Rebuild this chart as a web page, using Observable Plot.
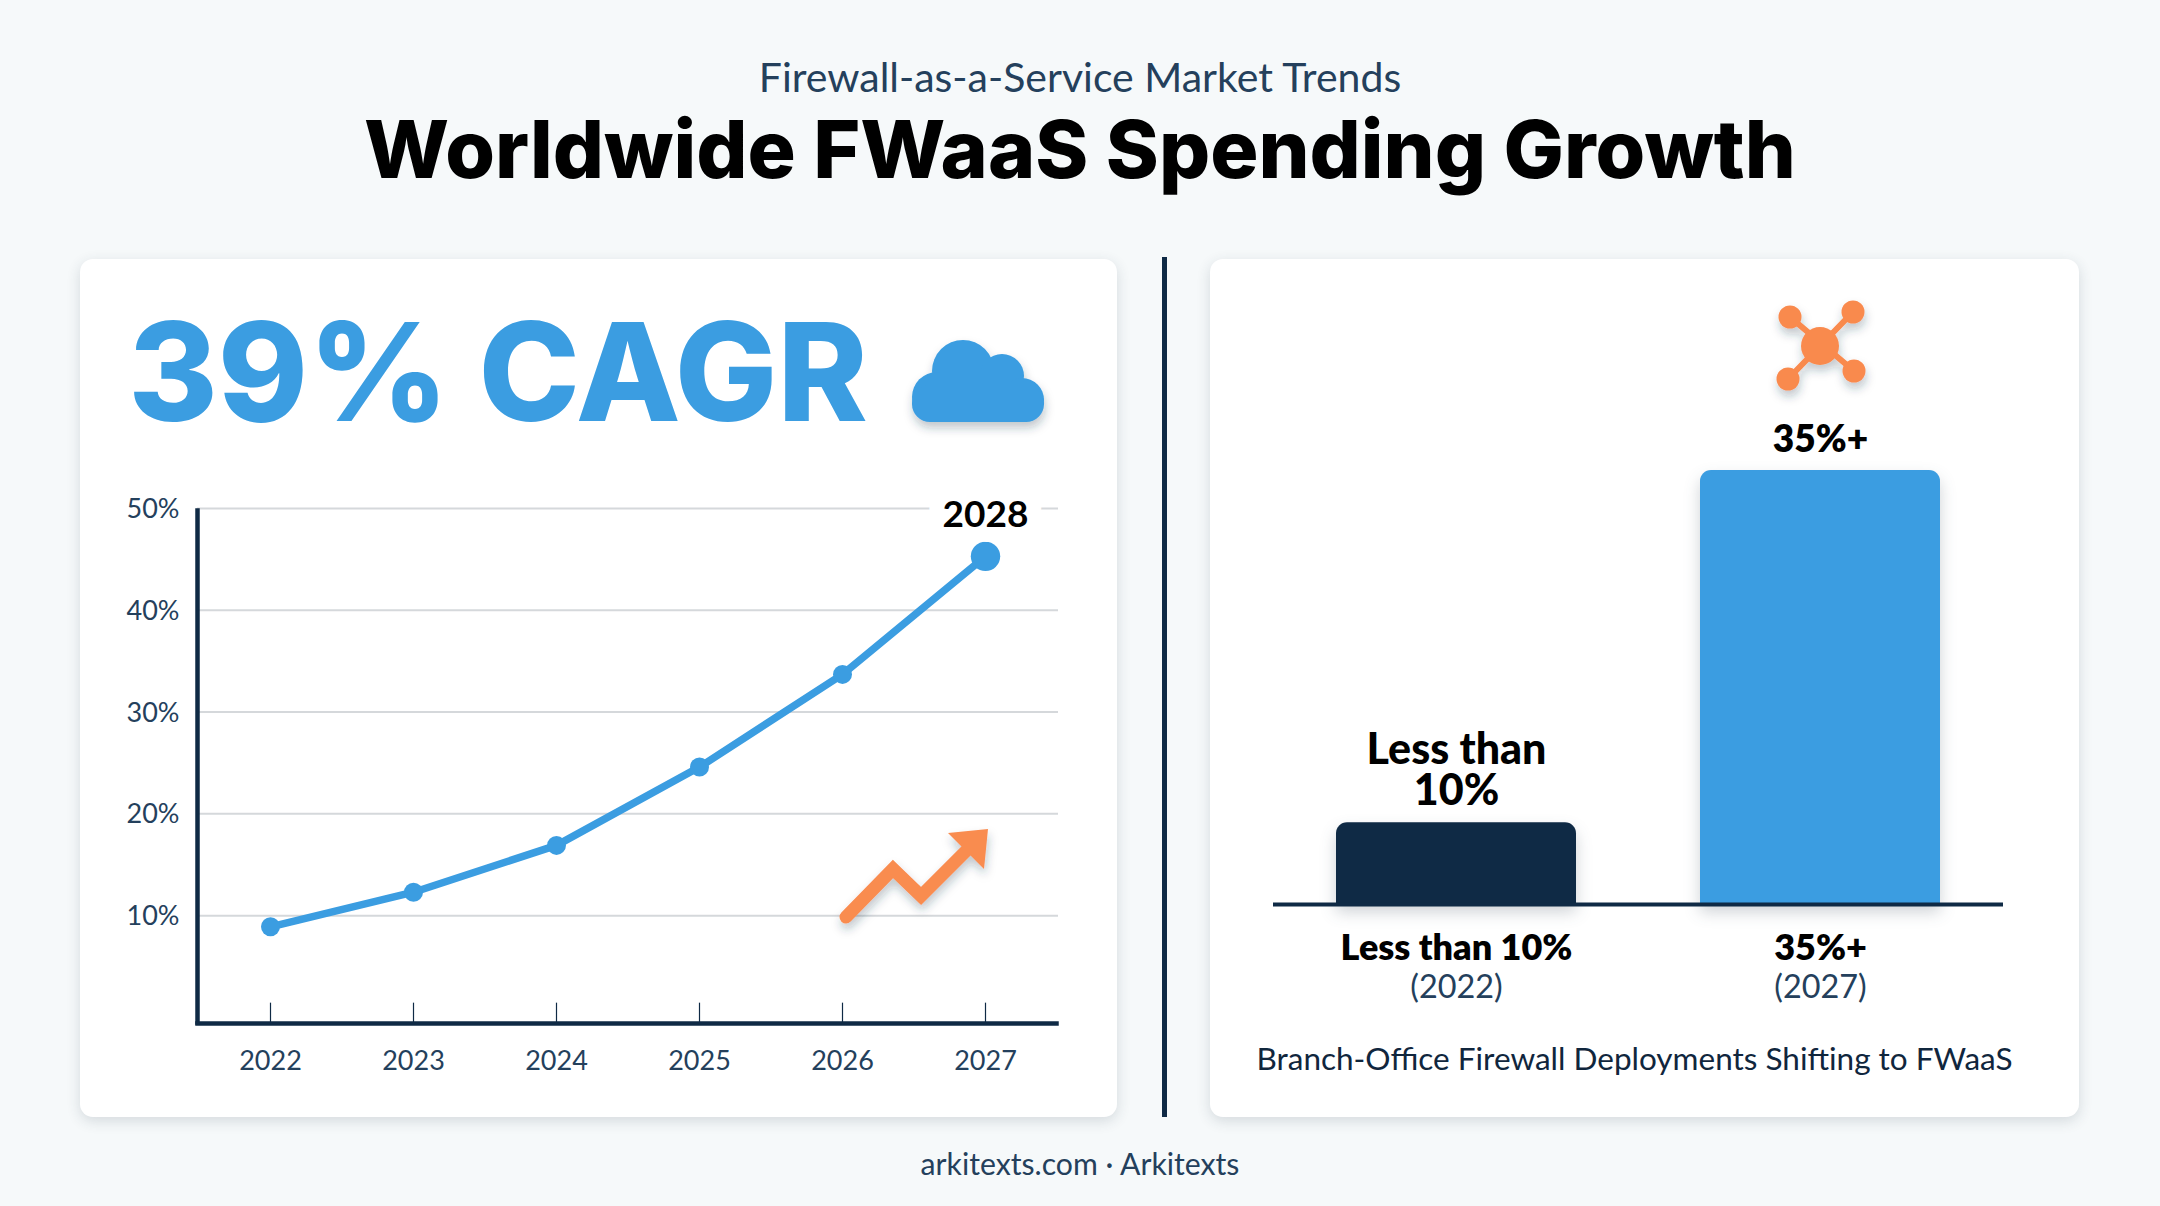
<!DOCTYPE html>
<html><head><meta charset="utf-8">
<script src="https://cdn.jsdelivr.net/npm/d3@7"></script>
<script src="https://cdn.jsdelivr.net/npm/@observablehq/plot@0.6"></script>
<style>
html,body{margin:0;padding:0;width:2160px;height:1206px;overflow:hidden;background:#f6f9fa;font-family:Lato,sans-serif;}
.abs{position:absolute;}
.txt{position:absolute;white-space:nowrap;line-height:1;transform:translate(-50%,-50%);}
.card{position:absolute;background:#fff;border-radius:13px;box-shadow:0 4px 14px rgba(40,55,75,.16);}
#left,#right{position:absolute;top:259px;}
#left{left:80px;}#right{left:1210px;}
#left svg,#right svg{display:block;overflow:visible;}
g[aria-label="bar"]{filter:drop-shadow(0 8px 8px rgba(30,50,70,.22));}
</style></head><body>
<div class="txt" style="left:1080px;top:76px;font-size:41px;color:#24405c;">Firewall-as-a-Service Market Trends</div>
<div class="txt" style="left:1080px;top:149px;font-family:Inter;font-weight:800;font-size:80.4px;color:#000;" id="title">Worldwide FWaaS Spending Growth</div>
<div class="card" style="left:80px;top:259px;width:1037px;height:858px;"></div>
<div class="card" style="left:1210px;top:259px;width:869px;height:858px;"></div>
<div class="abs" style="left:1162px;top:257px;width:5px;height:860px;background:#0f2a45;"></div>
<div class="txt" style="left:498px;top:372px;font-family:Inter;font-weight:800;font-size:136.5px;color:#3b9de1;" id="big">39% CAGR</div>
<div id="left"></div><div id="right"></div>
<svg class="abs" style="left:0;top:0;pointer-events:none;" width="2160" height="1206">
  <defs><filter id="sh" x="-30%" y="-30%" width="160%" height="170%"><feDropShadow dx="1" dy="6" stdDeviation="5" flood-color="#28374b" flood-opacity=".28"/></filter></defs>
  <g fill="#3b9de1" filter="url(#sh)">
    <circle cx="963" cy="371" r="31"/><circle cx="1002" cy="376" r="22"/><circle cx="937" cy="397" r="25"/><circle cx="1022" cy="400" r="22"/>
    <rect x="912" y="385" width="132" height="37" rx="18"/><rect x="940" y="370" width="70" height="40"/>
  </g>
  <g fill="#f98c50" stroke="#f98c50" filter="url(#sh)">
    <path d="M846 917L893 869L921 896L966 851" fill="none" stroke-width="13" stroke-linecap="round"/>
    <path d="M948 833L988 829L984 869Z" stroke="none"/>
  </g>
  <g fill="#f98a4e" stroke="#f98a4e" filter="url(#sh)">
    <path d="M1790 317L1854 371M1853 312L1788 379" stroke-width="6"/>
    <circle cx="1820" cy="346" r="19" stroke="none"/>
    <circle cx="1790" cy="317" r="11.5" stroke="none"/><circle cx="1853" cy="312" r="11.5" stroke="none"/>
    <circle cx="1788" cy="379" r="11.5" stroke="none"/><circle cx="1854" cy="371" r="11.5" stroke="none"/>
  </g>
</svg>
<div class="txt" style="left:1080px;top:1163px;font-size:30.2px;color:#24405c;">arkitexts.com · Arkitexts</div>
<script>
const years = [2022, 2023, 2024, 2025, 2026, 2027];
const spending = [8.9, 12.3, 16.9, 24.6, 33.7, 45.3];
const yTicks = [10, 20, 30, 40, 50];
const lastLabel = "2028";
const barKeys = ["a", "b"];
const barValues = [6.6, 35];
const barColors = ["#0f2a45", "#3b9de1"];
const topLabels = ["Less than\n10%", "35%+"];
const boldLabels = ["Less than 10%", "35%+"];
const yearLabels = ["(2022)", "(2027)"];
const caption = "Branch-Office Firewall Deployments Shifting to FWaaS";

const lineData = years.map((year, i) => ({year, value: spending[i]}));
const barData = barKeys.map((key, i) => ({key, value: barValues[i], color: barColors[i], top: topLabels[i], bold: boldLabels[i], year: yearLabels[i]}));
const navy = "#0f2a45", ink = "#24405c", blue = "#3b9de1";

const left = Plot.plot({
  width: 1037, height: 858,
  marginLeft: 117, marginRight: 59, marginTop: 249, marginBottom: 95,
  style: {background: "transparent", fontFamily: "Lato", fontSize: "27px", color: ink},
  x: {type: "point", domain: years, range: [187.5, 906.5], padding: 0, label: null},
  y: {domain: [-0.5, 50], label: null},
  marks: [
    Plot.ruleY(yTicks, {stroke: "#d5d8db", strokeWidth: 2}),
    Plot.ruleX(years, {x: d => d, y1: -0.5, y2: 1.4, stroke: navy, strokeWidth: 1.2}),
    Plot.frame({anchor: "left", stroke: navy, strokeWidth: 4.5, insetTop: 2}),
    Plot.frame({anchor: "bottom", stroke: navy, strokeWidth: 4.5, insetRight: 2, insetBottom: -1}),
    Plot.axisY({ticks: yTicks, tickFormat: d => d + "%", tickSize: 0, tickPadding: 18, dy: 1, label: null}),
    Plot.axisX({ticks: years, tickFormat: d => String(d), tickSize: 0, tickPadding: 28, label: null}),
    Plot.line(lineData, {x: "year", y: "value", stroke: blue, strokeWidth: 7.5}),
    Plot.dot(lineData.slice(0, 5), {x: "year", y: "value", fill: blue, r: 9.5}),
    Plot.dot(lineData.slice(5), {x: "year", y: "value", fill: blue, r: 14.7}),
    Plot.text(lineData.slice(5), {x: "year", y: "value", text: () => lastLabel, dy: -41, fill: "#000", fontWeight: 700, fontSize: 37, stroke: "#fff", strokeWidth: 30})
  ]
});
document.getElementById("left").append(left);

const right = Plot.plot({
  width: 869, height: 858,
  marginLeft: 63, marginRight: 76, marginTop: 211, marginBottom: 213,
  style: {background: "transparent", fontFamily: "Lato", color: ink},
  x: {type: "band", domain: barKeys, range: [1, 855], padding: 0.34, axis: null},
  y: {domain: [0, 35], axis: null},
  marks: [
    Plot.barY(barData, {x: "key", y: "value", fill: "color", ry1: 11}),
    Plot.ruleY([0], {stroke: navy, strokeWidth: 4}),
    Plot.text(barData.slice(0, 1), {x: "key", y: "value", text: "top", lineAnchor: "bottom", dy: -18, fill: "#000", fontWeight: 900, fontSize: 43, lineHeight: 0.95}),
    Plot.text(barData.slice(1), {x: "key", y: "value", text: "top", lineAnchor: "bottom", dy: -19, fill: "#000", fontWeight: 800, fontSize: 37}),
    Plot.text(barData, {x: "key", y: 0, text: "bold", dy: 44, fill: "#000", fontWeight: 800, fontSize: 36}),
    Plot.text(barData, {x: "key", y: 0, text: "year", dy: 83, fill: ink, fontSize: 32.4}),
    Plot.text([caption], {frameAnchor: "bottom", dx: -4, dy: 165, fill: "#10263d", fontSize: 31.5, text: d => d})
  ]
});
document.getElementById("right").append(right);
</script>
</body></html>
